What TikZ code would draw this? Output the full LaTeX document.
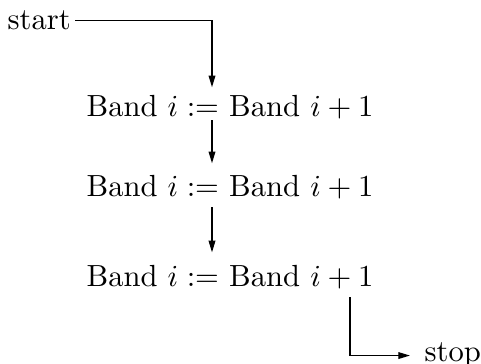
\documentclass[tikz,border=0pt]{standalone}
\usetikzlibrary{arrows.meta}

\begin{document}
\begin{tikzpicture}[x=0.327pt, y=-0.327pt, >={Triangle[length=3.8pt,width=2.2pt]},
  lbl/.style={inner sep=0pt, anchor=base west}]
  \useasboundingbox (0,0) rectangle (481,364);
  \node[lbl] (start) at (7,30) {start};
  \node[lbl] (band1) at (86,117) {Band $i :=$ Band $i+1$};
  \node[lbl] (band2) at (86,197) {Band $i :=$ Band $i+1$};
  \node[lbl] (band3) at (86,287) {Band $i :=$ Band $i+1$};
  \node[lbl] (stop) at (424,362) {stop};
  \coordinate (col) at (212,0);
  \coordinate (out) at (350,0);
  \draw[->, shorten <=1.3pt, shorten >=2.6pt] (start.east) -| (band1.north -| col);
  \draw[->, shorten >=3.9pt] (band1.south -| col) -- (band2.north -| col);
  \draw[->, shorten <=2.3pt, shorten >=4.2pt] (band2.south -| col) -- (band3.north -| col);
  \draw[->, shorten <=2.3pt, shorten >=4.6pt] (band3.south -| out) |- (stop.west);
\end{tikzpicture}
\end{document}
